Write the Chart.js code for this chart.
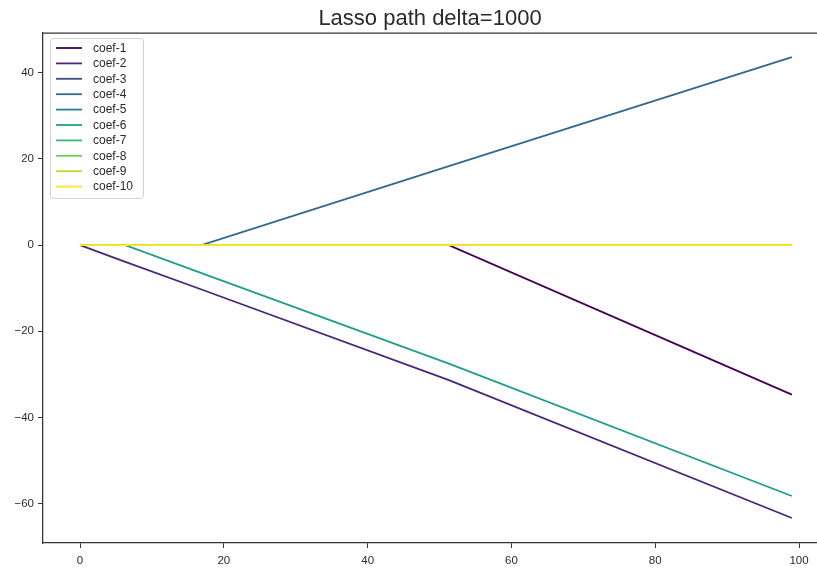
<!DOCTYPE html>
<html>
<head>
<meta charset="utf-8">
<script src="https://cdn.jsdelivr.net/npm/chart.js@4"></script>
<style>
  html, body { margin: 0; padding: 0; background: #ffffff; }
  #wrap { width: 817px; height: 569px; position: relative; }
</style>
</head>
<body>
<div id="wrap"><canvas id="c" width="817" height="569"></canvas></div>
<script>
// Regularisation step at which each piece of the path bends
const pathX = [0, 6.3, 16.9, 51.3, 99];

// Coefficient values at those steps
const coef1  = [0, 0, 0, 0, -34.7];
const coef2  = [0, -3.9, -10.3, -31.3, -63.3];
const coef3  = [0, 0, 0, 0, 0];
const coef4  = [0, 0, 0, 18.3, 43.6];
const coef5  = [0, 0, 0, 0, 0];
const coef6  = [0, 0, -6.5, -27.5, -58.2];
const coef7  = [0, 0, 0, 0, 0];
const coef8  = [0, 0, 0, 0, 0];
const coef9  = [0, 0, 0, 0, 0];
const coef10 = [0, 0, 0, 0, 0];

const seriesNames = ['coef-1','coef-2','coef-3','coef-4','coef-5','coef-6','coef-7','coef-8','coef-9','coef-10'];
const seriesValues = [coef1, coef2, coef3, coef4, coef5, coef6, coef7, coef8, coef9, coef10];
const viridis = ['#440154','#482878','#3e4989','#31688e','#26828e','#1f9e89','#35b779','#6ece58','#b5de2b','#fde725'];

const xTicks = [0, 20, 40, 60, 80, 100];
const yTicks = [-60, -40, -20, 0, 20, 40];

const titleText = 'Lasso path delta=1000';
const FONT = "'Liberation Sans', Arial, sans-serif";
const INK = '#2b2b2b';

// typographic minus for negative tick values
const fmt = v => (v < 0 ? '\u2212' + Math.abs(v) : String(v));

const datasets = seriesNames.map((name, i) => ({
  label: name,
  data: pathX.map((x, k) => ({ x: x, y: seriesValues[i][k] })),
  borderColor: viridis[i],
  backgroundColor: viridis[i],
  borderWidth: 1.8,
  pointRadius: 0,
  tension: 0,
  fill: false,
  order: seriesNames.length - 1 - i   // later coefficients painted on top
}));

// Title centred over the plotting area, top spine and the inset legend
const decorations = {
  id: 'decorations',
  afterDraw(chart) {
    const ctx = chart.ctx;
    const a = chart.chartArea;
    ctx.save();
    // title
    ctx.fillStyle = INK;
    ctx.font = '22px ' + FONT;
    ctx.textAlign = 'center';
    ctx.textBaseline = 'middle';
    ctx.fillText(titleText, (a.left + 817) / 2, 19);
    // top spine
    ctx.strokeStyle = '#333333';
    ctx.lineWidth = 1.25;
    ctx.beginPath();
    ctx.moveTo(a.left, a.top);
    ctx.lineTo(a.right + 2, a.top);
    ctx.stroke();
    // legend box
    const bx = a.left + 7, by = a.top + 5, bw = 93, bh = 160;
    ctx.fillStyle = 'rgba(255,255,255,0.85)';
    ctx.strokeStyle = '#d0d0d0';
    ctx.lineWidth = 1;
    ctx.beginPath();
    ctx.roundRect(bx + 0.5, by + 0.5, bw, bh, 3);
    ctx.fill();
    ctx.stroke();
    ctx.font = '12px ' + FONT;
    ctx.textAlign = 'left';
    ctx.textBaseline = 'middle';
    chart.data.datasets.forEach((ds, i) => {
      const y = by + 10 + i * 15.4;
      ctx.strokeStyle = ds.borderColor;
      ctx.lineWidth = 1.8;
      ctx.beginPath();
      ctx.moveTo(bx + 6, y);
      ctx.lineTo(bx + 32, y);
      ctx.stroke();
      ctx.fillStyle = INK;
      ctx.fillText(ds.label, bx + 43, y + 0.5);
    });
    ctx.restore();
  }
};

new Chart(document.getElementById('c'), {
  type: 'line',
  data: { datasets: datasets },
  plugins: [decorations],
  options: {
    responsive: false,
    animation: false,
    layout: { padding: { top: 33, right: 0, left: 0, bottom: 0 } },
    plugins: {
      legend: { display: false },
      title: { display: false },
      tooltip: { enabled: false }
    },
    scales: {
      x: {
        type: 'linear',
        min: -5.15,
        max: 102.5,
        afterBuildTicks: s => { s.ticks = xTicks.map(v => ({ value: v })); },
        afterFit: s => { s.height = 26; },
        grid: { drawOnChartArea: false, drawTicks: true, tickLength: 5, color: '#333333', lineWidth: 1 },
        border: { display: true, color: '#333333', width: 1.25 },
        ticks: { color: INK, font: { family: FONT, size: 11.5 }, padding: 6, maxRotation: 0, callback: fmt }
      },
      y: {
        type: 'linear',
        min: -69.1,
        max: 49.2,
        afterBuildTicks: s => { s.ticks = yTicks.map(v => ({ value: v })); },
        afterFit: s => { s.width = 43; },
        grid: { drawOnChartArea: false, drawTicks: true, tickLength: 5, color: '#333333', lineWidth: 1 },
        border: { display: true, color: '#333333', width: 1.25 },
        ticks: { color: INK, font: { family: FONT, size: 11.5 }, padding: 4, callback: fmt }
      }
    }
  }
});
</script>
</body>
</html>
